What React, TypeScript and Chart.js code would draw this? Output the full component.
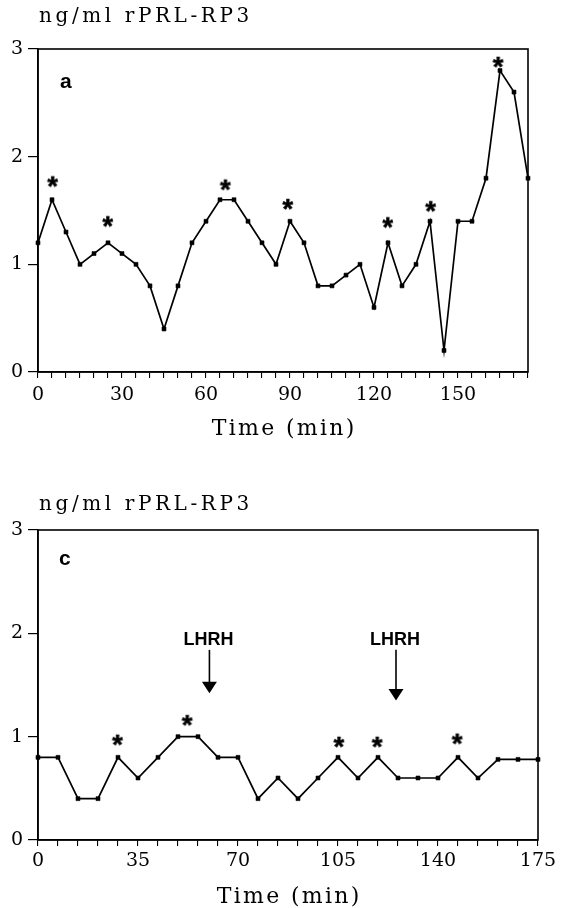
import React, { useEffect, useRef } from 'react';
import { Chart, registerables } from 'chart.js';

Chart.register(...registerables);

// ---------- Data: panel a ----------
const timeA = [0, 5, 10, 15, 20, 25, 30, 35, 40, 45, 50, 55, 60, 65, 70, 75, 80, 85, 90, 95, 100, 105, 110, 115, 120, 125, 130, 135, 140, 145, 150, 155, 160, 165, 170, 175];
const prlA = [1.2, 1.6, 1.3, 1.0, 1.1, 1.2, 1.1, 1.0, 0.8, 0.4, 0.8, 1.2, 1.4, 1.6, 1.6, 1.4, 1.2, 1.0, 1.4, 1.2, 0.8, 0.8, 0.9, 1.0, 0.6, 1.2, 0.8, 1.0, 1.4, 0.2, 1.4, 1.4, 1.8, 2.8, 2.6, 1.8];
const starTimeA = [5.3, 25, 67, 89.3, 125, 140.3, 164.4];
const starLevelA = [1.77, 1.40, 1.74, 1.56, 1.39, 1.54, 2.88];
const xTickLabelsA = [0, 30, 60, 90, 120, 150];

// ---------- Data: panel c ----------
const timeC = [0, 7, 14, 21, 28, 35, 42, 49, 56, 63, 70, 77, 84, 91, 98, 105, 112, 119, 126, 133, 140, 147, 154, 161, 168, 175];
const prlC = [0.8, 0.8, 0.4, 0.4, 0.8, 0.6, 0.8, 1.0, 1.0, 0.8, 0.8, 0.4, 0.6, 0.4, 0.6, 0.8, 0.6, 0.8, 0.6, 0.6, 0.6, 0.8, 0.6, 0.78, 0.78, 0.78];
const starTimeC = [27.9, 52.3, 105.4, 118.8, 146.8];
const starLevelC = [0.97, 1.16, 0.95, 0.95, 0.98];
const xTickLabelsC = [0, 35, 70, 105, 140, 175];
const lhrhTime = [60, 125.3];
const lhrhLabelLevel = [1.94, 1.94];
const lhrhArrowTop = [1.84, 1.84];
const lhrhArrowTip = [1.42, 1.35];

const yTickValues = [0, 1, 2, 3];

const SERIF = '"DejaVu Serif", serif';
const SANS = '"Liberation Sans", Arial, sans-serif';

function makeAsterisk(): HTMLCanvasElement {
  const c = document.createElement('canvas');
  c.width = 18;
  c.height = 18;
  const ctx = c.getContext('2d')!;
  ctx.font = `bold 27px ${SANS}`;
  ctx.fillStyle = '#000';
  ctx.strokeStyle = '#000';
  ctx.lineWidth = 0.6;
  const m = ctx.measureText('*');
  const w = m.actualBoundingBoxLeft + m.actualBoundingBoxRight;
  const h = m.actualBoundingBoxAscent + m.actualBoundingBoxDescent;
  const x = 9 - w / 2 + m.actualBoundingBoxLeft;
  const y = 9 - h / 2 + m.actualBoundingBoxAscent;
  ctx.fillText('*', x, y);
  ctx.strokeText('*', x, y);
  return c;
}

const decor = {
  id: 'decor',
  afterDraw(chart: any, _args: any, opts: any) {
    const { ctx, chartArea: ca, scales } = chart;
    ctx.save();
    ctx.strokeStyle = '#000';
    ctx.lineWidth = 1.6;
    ctx.strokeRect(ca.left, ca.top, ca.right - ca.left, ca.bottom - ca.top);
    ctx.fillStyle = '#000';
    // y title (horizontal, top-left)
    ctx.font = `20px ${SERIF}`;
    (ctx as any).letterSpacing = '3.6px';
    ctx.textAlign = 'left';
    ctx.textBaseline = 'alphabetic';
    ctx.fillText('ng/ml rPRL-RP3', 39, opts.yTitleY);
    // x title
    ctx.font = `22px ${SERIF}`;
    (ctx as any).letterSpacing = '2.3px';
    ctx.textAlign = 'center';
    ctx.fillText('Time (min)', (ca.left + ca.right) / 2 + 1.2, ca.bottom + 63);
    (ctx as any).letterSpacing = '0px';
    // panel letter
    ctx.font = `bold 21px ${SANS}`;
    ctx.textAlign = 'left';
    ctx.fillText(opts.panel, ca.left + opts.panelDx, ca.top + opts.panelDy);
    // LHRH arrows
    const arrows = opts.arrows || { t: [], label: [], top: [], tip: [] };
    for (let i = 0; i < arrows.t.length; i++) {
      const x = scales.x.getPixelForValue(arrows.t[i]);
      const yl = scales.y.getPixelForValue(arrows.label[i]);
      const yt = scales.y.getPixelForValue(arrows.top[i]);
      const yp = scales.y.getPixelForValue(arrows.tip[i]);
      ctx.font = `bold 18px ${SANS}`;
      ctx.textAlign = 'center';
      ctx.textBaseline = 'middle';
      ctx.fillText('LHRH', x - 1, yl);
      ctx.lineWidth = 1.6;
      ctx.beginPath();
      ctx.moveTo(x, yt);
      ctx.lineTo(x, yp - 10);
      ctx.stroke();
      ctx.beginPath();
      ctx.moveTo(x - 7.5, yp - 11.5);
      ctx.lineTo(x + 7.5, yp - 11.5);
      ctx.lineTo(x, yp);
      ctx.closePath();
      ctx.fill();
    }
    ctx.restore();
  },
};

function buildConfig(p: any) {
  const star = makeAsterisk();
  return {
    type: 'scatter',
    data: {
      datasets: [
        {
          data: p.time.map((t: number, i: number) => ({ x: t, y: p.values[i] })),
          showLine: true,
          borderColor: '#000',
          borderWidth: 1.7,
          tension: 0,
          pointStyle: 'rect',
          pointRadius: 2.8,
          pointBorderWidth: 0.6,
          pointBackgroundColor: '#000',
          pointBorderColor: '#000',
          clip: false,
        },
        {
          data: p.starT.map((t: number, i: number) => ({ x: t, y: p.starV[i] })),
          showLine: false,
          pointStyle: star,
          pointRadius: 5,
          clip: false,
        },
      ],
    },
    options: {
      responsive: false,
      animation: false,
      events: [],
      layout: { padding: { top: p.top, right: p.right, left: 0, bottom: 0 } },
      plugins: {
        legend: { display: false },
        tooltip: { enabled: false },
        decor: {
          yTitleY: p.yTitleY,
          panel: p.panel,
          panelDx: p.panelDx,
          panelDy: p.panelDy,
          arrows: p.arrows,
        },
      },
      scales: {
        x: {
          type: 'linear',
          min: 0,
          max: 175,
          afterFit: (s: any) => { s.height = p.xHeight; },
          border: { display: true, color: '#000', width: 1.6 },
          grid: { drawOnChartArea: false, drawTicks: true, tickLength: 6, color: '#000', lineWidth: 1.1 },
          ticks: {
            stepSize: p.step,
            autoSkip: false,
            maxRotation: 0,
            padding: p.xPad,
            color: '#000',
            font: { family: SERIF, size: 19 },
            callback: (v: number) => (p.labels.includes(Math.round(v)) ? String(Math.round(v)) : ''),
          },
        },
        y: {
          type: 'linear',
          min: 0,
          max: 3,
          afterFit: (s: any) => { s.width = 38; },
          afterBuildTicks: (s: any) => { s.ticks = yTickValues.map((v) => ({ value: v })); },
          border: { display: true, color: '#000', width: 1.6 },
          grid: { drawOnChartArea: false, drawTicks: true, tickLength: 10, color: '#000', lineWidth: 1.2 },
          ticks: {
            padding: 5,
            color: '#000',
            font: { family: SERIF, size: 19 },
          },
        },
      },
    },
    plugins: [decor],
  } as any;
}

function Panel(props: { cfg: any; height: number }) {
  const ref = useRef<HTMLCanvasElement>(null);
  useEffect(() => {
    const chart = new Chart(ref.current!, buildConfig(props.cfg));
    return () => chart.destroy();
  }, []);
  return (
    <div style={{ width: 565, height: props.height, position: 'relative' }}>
      <canvas ref={ref} width={565} height={props.height} style={{ display: 'block' }} />
    </div>
  );
}

export default function App() {
  const cfgA = {
    time: timeA, values: prlA, starT: starTimeA, starV: starLevelA,
    step: 5, labels: xTickLabelsA, xPad: 6,
    top: 49, right: 37, xHeight: 82,
    yTitleY: 22, panel: 'a', panelDx: 22, panelDy: 39,
    arrows: null,
  };
  const cfgC = {
    time: timeC, values: prlC, starT: starTimeC, starV: starLevelC,
    step: 7, labels: xTickLabelsC, xPad: 4,
    top: 76, right: 27, xHeight: 68,
    yTitleY: 56, panel: 'c', panelDx: 21, panelDy: 35,
    arrows: { t: lhrhTime, label: lhrhLabelLevel, top: lhrhArrowTop, tip: lhrhArrowTip },
  };
  return (
    <div style={{ position: 'absolute', left: 0, top: 0, width: 565, height: 908, background: '#fff', overflow: 'hidden' }}>
      <Panel cfg={cfgA} height={454} />
      <Panel cfg={cfgC} height={454} />
    </div>
  );
}
